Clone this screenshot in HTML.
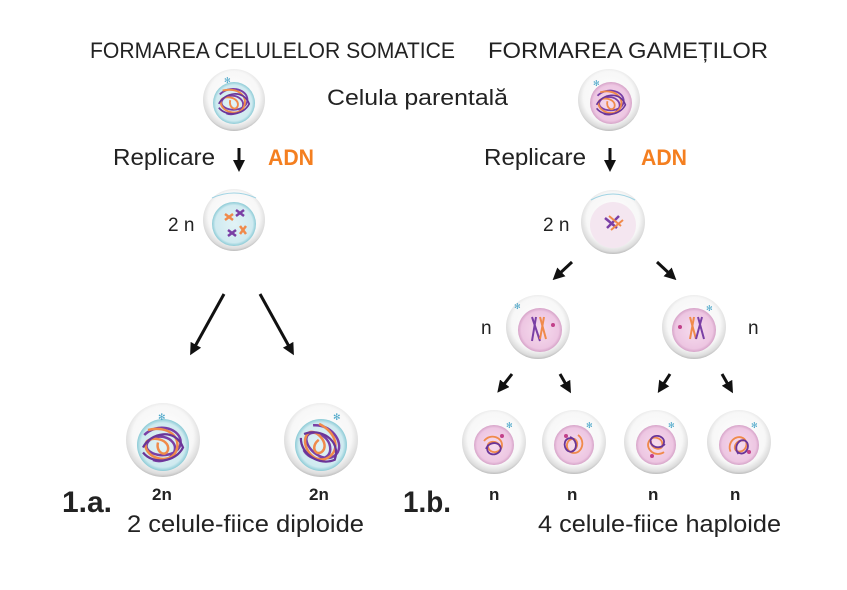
<!DOCTYPE html>
<html><head><meta charset="utf-8"><style>
body{margin:0;background:#fff;}
svg{display:block;font-family:"Liberation Sans","DejaVu Sans",sans-serif;}
</style></head><body>
<svg width="847" height="590" viewBox="0 0 847 590" xmlns="http://www.w3.org/2000/svg">
<defs>
<radialGradient id="cell" cx="50%" cy="45%" r="55%">
<stop offset="0" stop-color="#ffffff"/><stop offset="0.75" stop-color="#f7f7f7"/><stop offset="0.93" stop-color="#dcdcdc"/><stop offset="1" stop-color="#bdbdbd"/></radialGradient>
<radialGradient id="blue" cx="50%" cy="50%" r="50%"><stop offset="0" stop-color="#e2f3f6"/><stop offset="0.85" stop-color="#cfeaf0"/><stop offset="1" stop-color="#8ccbd6"/></radialGradient>
<radialGradient id="pink" cx="50%" cy="50%" r="50%"><stop offset="0" stop-color="#f6dcee"/><stop offset="0.85" stop-color="#edc6e2"/><stop offset="1" stop-color="#d6a3c8"/></radialGradient>
<marker id="ah" viewBox="0 0 10 10" refX="5" refY="5" markerWidth="4" markerHeight="4" orient="auto"><path d="M0,0 L10,5 L0,10 z" fill="#111"/></marker>
<g id="tangle">
<path d="M-15,-8 C-5,-18 12,-14 14,-4 C16,8 -4,12 -12,4 C-18,-4 0,-12 8,-2 C14,6 2,16 -8,12" fill="none" stroke="#7a3fa5" stroke-width="2"/>
<path d="M-12,-12 C4,-16 16,-6 10,6 C4,16 -14,10 -14,0 C-14,-8 6,-6 4,4 C2,10 -6,6 -4,-2" fill="none" stroke="#f08a4b" stroke-width="2"/>
<path d="M-16,2 C-10,-10 10,-14 16,2 C10,14 -8,16 -16,6" fill="none" stroke="#6a3598" stroke-width="1.8"/>
</g>
<g id="small">
<path d="M-10,-4 C-4,-12 8,-8 8,0 C8,8 -4,10 -6,2 C-8,-4 4,-6 6,2" fill="none" stroke="#f08a4b" stroke-width="1.8"/>
<path d="M-8,4 C-4,-6 10,-2 6,6 C2,12 -10,10 -6,0" fill="none" stroke="#6a3598" stroke-width="1.8"/>
</g>
</defs>

<g fill="#222" font-size="22" lengthAdjust="spacingAndGlyphs">
<text x="90" y="58" textLength="365" lengthAdjust="spacingAndGlyphs">FORMAREA CELULELOR SOMATICE</text>
<text x="488" y="58" textLength="280" lengthAdjust="spacingAndGlyphs">FORMAREA GAMEȚILOR</text>
<text x="327" y="105" textLength="181" lengthAdjust="spacingAndGlyphs">Celula parentală</text>
</g>
<g fill="#222" font-size="23">
<text x="113" y="165" textLength="102" lengthAdjust="spacingAndGlyphs">Replicare</text>
<text x="484" y="165" textLength="102" lengthAdjust="spacingAndGlyphs">Replicare</text>
</g>
<g fill="#f47f20" font-size="22" font-weight="bold">
<text x="268" y="165" textLength="46" lengthAdjust="spacingAndGlyphs">ADN</text>
<text x="641" y="165" textLength="46" lengthAdjust="spacingAndGlyphs">ADN</text>
</g>
<g fill="#222" font-size="19">
<text x="168" y="231">2 n</text>
<text x="543" y="231">2 n</text>
<text x="481" y="334">n</text>
<text x="748" y="334">n</text>
</g>
<g fill="#222" font-size="17" font-weight="bold">
<text x="152" y="500">2n</text>
<text x="309" y="500">2n</text>
<text x="489" y="500">n</text>
<text x="567" y="500">n</text>
<text x="648" y="500">n</text>
<text x="730" y="500">n</text>
</g>
<g fill="#222" font-size="30" font-weight="bold">
<text x="62" y="512" textLength="50" lengthAdjust="spacingAndGlyphs">1.a.</text>
<text x="403" y="512" textLength="48" lengthAdjust="spacingAndGlyphs">1.b.</text>
</g>
<g fill="#222" font-size="24">
<text x="127" y="532" textLength="237" lengthAdjust="spacingAndGlyphs">2 celule-fiice diploide</text>
<text x="538" y="532" textLength="243" lengthAdjust="spacingAndGlyphs">4 celule-fiice haploide</text>
</g>

<g stroke="#111" stroke-width="3" marker-end="url(#ah)" fill="none">
<line x1="239" y1="148" x2="239" y2="166"/>
<line x1="610" y1="148" x2="610" y2="166"/>
<line x1="224" y1="294" x2="193" y2="350"/>
<line x1="260" y1="294" x2="291" y2="350"/>
<line x1="572" y1="262" x2="557" y2="276"/>
<line x1="657" y1="262" x2="672" y2="276"/>
<line x1="512" y1="374" x2="501" y2="388"/>
<line x1="560" y1="374" x2="568" y2="388"/>
<line x1="670" y1="374" x2="661" y2="388"/>
<line x1="722" y1="374" x2="730" y2="388"/>
</g>

<g transform="translate(234,100)"><circle r="31" fill="url(#cell)"/><circle cx="0" cy="3" r="21" fill="url(#blue)"/><use href="#tangle" transform="translate(0,2) scale(0.95)"/><text x="-10" y="-17" font-size="8" fill="#4aa6c9">✻</text></g>
<g transform="translate(234,220)"><circle r="31" fill="url(#cell)"/><circle cx="0" cy="4" r="22" fill="url(#blue)"/>
<g stroke="#f08a4b" stroke-width="2.5"><line x1="-9" y1="-6" x2="-1" y2="0"/><line x1="-9" y1="0" x2="-1" y2="-6"/><line x1="6" y1="6" x2="12" y2="14"/><line x1="12" y1="6" x2="6" y2="14"/></g>
<g stroke="#7a3fa5" stroke-width="2.5"><line x1="2" y1="-10" x2="10" y2="-4"/><line x1="2" y1="-4" x2="10" y2="-10"/><line x1="-6" y1="10" x2="2" y2="16"/><line x1="-6" y1="16" x2="2" y2="10"/></g>
<path d="M-22,-22 Q0,-32 22,-22" stroke="#9fd3e3" fill="none"/></g>
<g transform="translate(163,440)"><circle r="37" fill="url(#cell)"/><circle cx="0" cy="5" r="26" fill="url(#blue)"/><use href="#tangle" transform="translate(0,5) scale(1.25)"/><text x="-5" y="-20" font-size="9" fill="#4aa6c9">✻</text></g>
<g transform="translate(321,440)"><circle r="37" fill="url(#cell)"/><circle cx="0" cy="5" r="26" fill="url(#blue)"/><use href="#tangle" transform="translate(0,5) scale(1.25) rotate(40)"/><text x="12" y="-20" font-size="9" fill="#4aa6c9">✻</text></g>

<g transform="translate(609,100)"><circle r="31" fill="url(#cell)"/><circle cx="2" cy="3" r="21" fill="url(#pink)"/><use href="#tangle" transform="translate(2,3) scale(0.9)"/><text x="-16" y="-14" font-size="8" fill="#4aa6c9">✻</text></g>
<g transform="translate(613,222)"><circle r="32" fill="url(#cell)"/><circle cx="0" cy="3" r="23" fill="#f4e6f0"/>
<g stroke="#7a3fa5" stroke-width="2.5"><line x1="-8" y1="-4" x2="4" y2="6"/><line x1="-6" y1="6" x2="6" y2="-6"/></g>
<g stroke="#f08a4b" stroke-width="2"><line x1="-4" y1="-6" x2="8" y2="4"/><line x1="-2" y1="8" x2="10" y2="-2"/></g>
<path d="M-22,-22 Q0,-34 22,-22" stroke="#9fd3e3" fill="none"/></g>
<g transform="translate(538,327)"><circle r="32" fill="url(#cell)"/><circle cx="2" cy="3" r="22" fill="url(#pink)"/>
<g stroke="#7a3fa5" stroke-width="2"><line x1="-6" y1="-10" x2="2" y2="14"/><line x1="-2" y1="-10" x2="-6" y2="14"/></g>
<g stroke="#f08a4b" stroke-width="2"><line x1="2" y1="-10" x2="8" y2="12"/><line x1="6" y1="-10" x2="2" y2="12"/></g>
<circle cx="15" cy="-2" r="2" fill="#c2408a"/><text x="-24" y="-18" font-size="8" fill="#4aa6c9">✻</text></g>
<g transform="translate(694,327)"><circle r="32" fill="url(#cell)"/><circle cx="0" cy="3" r="22" fill="url(#pink)"/>
<g stroke="#f08a4b" stroke-width="2"><line x1="-4" y1="-10" x2="2" y2="12"/><line x1="0" y1="-10" x2="-4" y2="12"/></g>
<g stroke="#7a3fa5" stroke-width="2"><line x1="4" y1="-10" x2="10" y2="12"/><line x1="8" y1="-10" x2="2" y2="12"/></g>
<circle cx="-14" cy="0" r="2" fill="#c2408a"/><text x="12" y="-16" font-size="8" fill="#4aa6c9">✻</text></g>

<g transform="translate(494,442)"><circle r="32" fill="url(#cell)"/><circle cx="0" cy="3" r="20" fill="url(#pink)"/><use href="#small" transform="translate(0,3)"/><circle cx="8" cy="-6" r="2" fill="#c2408a"/><text x="12" y="-14" font-size="8" fill="#4aa6c9">✻</text></g>
<g transform="translate(574,442)"><circle r="32" fill="url(#cell)"/><circle cx="0" cy="3" r="20" fill="url(#pink)"/><use href="#small" transform="translate(0,3) rotate(90)"/><circle cx="-8" cy="-6" r="2" fill="#c2408a"/><text x="12" y="-14" font-size="8" fill="#4aa6c9">✻</text></g>
<g transform="translate(656,442)"><circle r="32" fill="url(#cell)"/><circle cx="0" cy="3" r="20" fill="url(#pink)"/><use href="#small" transform="translate(0,3) rotate(200)"/><circle cx="-4" cy="14" r="2" fill="#c2408a"/><text x="12" y="-14" font-size="8" fill="#4aa6c9">✻</text></g>
<g transform="translate(739,442)"><circle r="32" fill="url(#cell)"/><circle cx="0" cy="3" r="20" fill="url(#pink)"/><use href="#small" transform="translate(0,3) rotate(300)"/><circle cx="10" cy="10" r="2" fill="#c2408a"/><text x="12" y="-14" font-size="8" fill="#4aa6c9">✻</text></g>
</svg>
</body></html>
